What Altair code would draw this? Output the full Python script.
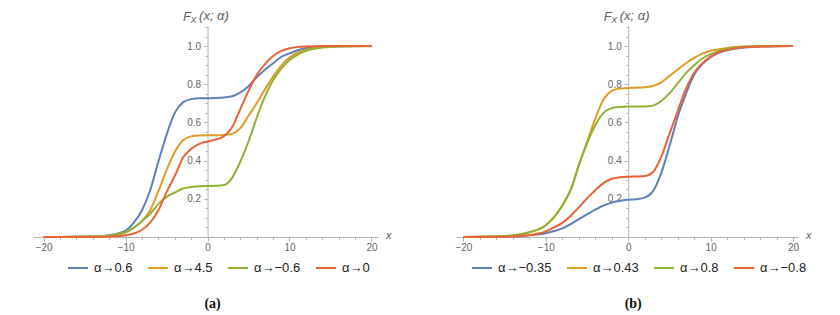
import altair as alt
import pandas as pd

# ---------------- data ----------------
X_GRID = [-20, -14, -12, -10, -9, -8, -7, -6, -5, -4, -3, -2, -1, 0, 1, 2, 3,
          4, 5, 6, 7, 8, 9, 10, 11, 12, 14, 16, 20]

A_LABELS = ["α→0.6", "α→4.5", "α→−0.6", "α→0"]
A_BLUE = [0, 0.002, 0.009, 0.034, 0.075, 0.14, 0.245, 0.395, 0.535, 0.65, 0.705, 0.722, 0.726, 0.727, 0.728,
          0.731, 0.737, 0.757, 0.79, 0.836, 0.876, 0.91, 0.943, 0.962, 0.978, 0.988, 0.997, 0.999, 1.0]
A_ORANGE = [0, 0.002, 0.007, 0.025, 0.047, 0.083, 0.14, 0.24, 0.35, 0.445, 0.507, 0.527, 0.532, 0.533, 0.533,
            0.534, 0.54, 0.57, 0.635, 0.70, 0.773, 0.84, 0.898, 0.94, 0.965, 0.98, 0.995, 0.999, 1.0]
A_GREEN = [0, 0.002, 0.007, 0.025, 0.05, 0.084, 0.122, 0.172, 0.21, 0.233, 0.254, 0.262, 0.266, 0.267, 0.268,
           0.272, 0.31, 0.395, 0.50, 0.625, 0.735, 0.822, 0.882, 0.927, 0.955, 0.975, 0.992, 0.998, 1.0]
A_RED = [0, 0.0, 0.002, 0.009, 0.018, 0.038, 0.075, 0.14, 0.235, 0.32, 0.415, 0.462, 0.488, 0.50, 0.51,
         0.528, 0.575, 0.67, 0.765, 0.848, 0.905, 0.948, 0.975, 0.988, 0.995, 0.998, 1.0, 1.0, 1.0]

B_LABELS = ["α→−0.35", "α→0.43", "α→0.8", "α→−0.8"]
B_BLUE = [0, 0.002, 0.009, 0.02, 0.031, 0.045, 0.067, 0.094, 0.118, 0.143, 0.165, 0.18, 0.19, 0.195, 0.198,
          0.206, 0.24, 0.335, 0.475, 0.63, 0.75, 0.85, 0.905, 0.942, 0.965, 0.978, 0.992, 0.998, 1.0]
B_ORANGE = [0, 0.008, 0.025, 0.062, 0.104, 0.165, 0.245, 0.375, 0.497, 0.62, 0.72, 0.765, 0.778, 0.78, 0.782,
            0.784, 0.791, 0.81, 0.843, 0.877, 0.91, 0.938, 0.96, 0.975, 0.983, 0.99, 0.997, 0.999, 1.0]
B_GREEN = [0, 0.008, 0.025, 0.062, 0.104, 0.165, 0.245, 0.375, 0.49, 0.585, 0.65, 0.675, 0.681, 0.683, 0.683,
           0.684, 0.688, 0.712, 0.752, 0.805, 0.858, 0.90, 0.935, 0.957, 0.975, 0.986, 0.996, 0.999, 1.0]
B_RED = [0, 0.003, 0.01, 0.029, 0.05, 0.074, 0.11, 0.155, 0.202, 0.245, 0.282, 0.305, 0.313, 0.316, 0.317,
         0.319, 0.34, 0.42, 0.54, 0.66, 0.775, 0.86, 0.91, 0.945, 0.968, 0.98, 0.994, 0.998, 1.0]

COLORS = ["#5e81b5", "#e19c24", "#8fb032", "#eb6235"]
X_TICKS = list(range(-20, 21, 2))
Y_TICKS = [round(0.05 * i, 2) for i in range(1, 23)]
Y_DOMAIN = [0, 1.105]

AXIS_GRAY = "#b3b3b3"
LABEL_GRAY = "#666666"
TITLE_GRAY = "#606060"
FONT = "Liberation Sans"

H = 211


def panel(labels, series, xdom, width, tag, legend_x):
    rows = []
    for lab, ys in zip(labels, series):
        for x, y in zip(X_GRID, ys):
            rows.append({"x": x, "y": y, "s": lab})
    df = pd.DataFrame(rows)
    zero_px = (0 - xdom[0]) / (xdom[1] - xdom[0]) * width

    lines = alt.Chart(df).mark_line(interpolate="monotone", strokeWidth=2).encode(
        x=alt.X("x:Q", scale=alt.Scale(domain=xdom, nice=False, zero=False),
                axis=alt.Axis(values=X_TICKS, title=None, grid=False, labelFlush=False,
                              labelOverlap=False,
                              labelExpr="datum.value % 10 === 0 ? datum.label : ''",
                              tickSize={"condition": {"test": "datum.value % 10 === 0", "value": 4},
                                        "value": 2.5},
                              domainColor=AXIS_GRAY, tickColor=AXIS_GRAY, labelColor=LABEL_GRAY,
                              labelFont=FONT, labelFontSize=10, labelPadding=1)),
        y=alt.Y("y:Q", scale=alt.Scale(domain=Y_DOMAIN, nice=False, zero=False),
                axis=alt.Axis(values=Y_TICKS, title=None, grid=False, offset=-zero_px,
                              labelOverlap=False, labelFlush=False,
                              labelExpr="round(datum.value*100) % 20 === 0 ? format(datum.value, '.1f') : ''",
                              tickSize={"condition": {"test": "round(datum.value*100) % 20 === 0", "value": 4},
                                        "value": 2.5},
                              domainColor=AXIS_GRAY, tickColor=AXIS_GRAY, labelColor=LABEL_GRAY,
                              labelFont=FONT, labelFontSize=10, labelPadding=3)),
        color=alt.Color("s:N", sort=labels,
                        scale=alt.Scale(domain=labels, range=COLORS),
                        legend=alt.Legend(orient="none", legendX=legend_x,
                                          legendY=231, direction="horizontal", columns=4,
                                          gridAlign="each",
                                          title=None, symbolType="stroke", symbolStrokeWidth=2,
                                          symbolSize=400, labelFontSize=13, labelFont=FONT,
                                          labelColor="#222222", columnPadding=11, labelOffset=5)),
    ).properties(width=width, height=H)

    ytitle_f = alt.Chart(pd.DataFrame({"t": ["F"]})).mark_text(
        align="left", baseline="alphabetic", fontSize=13, fontStyle="italic", font=FONT, color=TITLE_GRAY
    ).encode(text="t:N", x=alt.value(zero_px - 24.5), y=alt.value(-5.5))
    ytitle_sub = alt.Chart(pd.DataFrame({"t": ["X"]})).mark_text(
        align="left", baseline="alphabetic", fontSize=9, fontStyle="italic", font=FONT, color=TITLE_GRAY
    ).encode(text="t:N", x=alt.value(zero_px - 17), y=alt.value(-3))
    ytitle_rest = alt.Chart(pd.DataFrame({"t": ["(x; α)"]})).mark_text(
        align="left", baseline="alphabetic", fontSize=13, fontStyle="italic", font=FONT, color=TITLE_GRAY
    ).encode(text="t:N", x=alt.value(zero_px - 8.5), y=alt.value(-6))
    xtitle = alt.Chart(pd.DataFrame({"t": ["x"]})).mark_text(
        align="left", baseline="middle", fontSize=11, fontStyle="italic", font=FONT, color=TITLE_GRAY
    ).encode(text="t:N", x=alt.value(width + 8), y=alt.value(H - 1))
    tagtext = alt.Chart(pd.DataFrame({"t": [tag]})).mark_text(
        align="center", baseline="middle", fontSize=14, fontWeight="bold", font="Liberation Serif",
        color="#111111"
    ).encode(text="t:N", x=alt.value(zero_px + 5), y=alt.value(H + 67))

    return alt.layer(lines, ytitle_f, ytitle_sub, ytitle_rest, xtitle, tagtext)


pa = panel(A_LABELS, [A_BLUE, A_ORANGE, A_GREEN, A_RED], [-21.3, 20.8], 345, "(a)", 34)
pb = panel(B_LABELS, [B_BLUE, B_ORANGE, B_GREEN, B_RED], [-20.9, 20.6], 342, "(b)", 15)

chart = alt.hconcat(pa, pb, spacing=78, bounds="flush").resolve_scale(
    color="independent"
).properties(
    padding={"left": 25, "top": 2, "right": 0, "bottom": 0},
    background="white",
).configure_view(stroke=None)

chart.save("out.html", embed_options={"renderer": "svg", "actions": False})
